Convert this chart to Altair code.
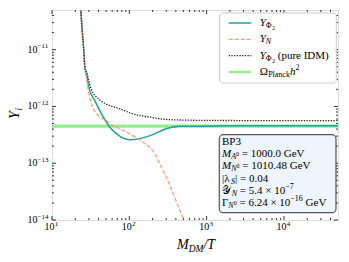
import altair as alt
import pandas as pd

# ---------------- data ----------------
teal_x = [22.9, 23.6, 24.8, 25.8, 26.6, 28.0, 29.9, 35.8, 43.6, 55.7, 68.0, 101, 136, 200, 299, 444, 803, 2000, 10000, 50000]
teal_y = [8.9e-11, 4.8e-11, 1.88e-11, 9.6e-12, 4.9e-12, 3.8e-12, 2.18e-12, 1.27e-12, 7.45e-13, 4.34e-13, 3.32e-13,
          2.6e-13, 2.71e-13, 3.19e-13, 4.06e-13, 4.46e-13, 4.5e-13, 4.55e-13, 4.55e-13, 4.55e-13]

orange_x = [22.9, 23.6, 24.8, 25.8, 26.6, 27.3, 29.0, 31.5, 37.6, 41.5, 50.6, 55.7, 75, 110, 148, 182, 212, 246, 314, 383, 467, 505, 562]
orange_y = [8.9e-11, 4.8e-11, 1.88e-11, 9.6e-12, 4.9e-12, 3.8e-12, 2.18e-12, 1.27e-12, 7.45e-13, 6.5e-13, 5.67e-13,
            4.97e-13, 4.06e-13, 3.1e-13, 2.37e-13, 1.93e-13, 1.5e-13, 9.9e-14, 5.04e-14, 2.57e-14, 1.31e-14, 1.03e-14, 6.2e-15]

black_x = [22.9, 23.6, 24.8, 25.8, 26.6, 28.4, 31.5, 41.5, 55.7, 75, 110, 182, 299, 803, 3000, 50000]
black_y = [8.9e-11, 4.8e-11, 1.88e-11, 9.6e-12, 4.9e-12, 3.8e-12, 2.18e-12, 1.3e-12, 1.04e-12, 9.1e-13, 7.45e-13,
           6.5e-13, 5.9e-13, 5.7e-13, 5.65e-13, 5.65e-13]

planck_x = [10, 50000]
planck_y = [4.5e-13, 4.5e-13]

x_major = [10, 100, 1000, 10000]
x_exp = ["1", "2", "3", "4"]
y_major = [1e-14, 1e-13, 1e-12, 1e-11]
y_exp = ["−14", "−13", "−12", "−11"]
x_minor = [2e1, 3e1, 4e1, 5e1, 6e1, 7e1, 8e1, 9e1, 2e2, 3e2, 4e2, 5e2, 6e2, 7e2, 8e2, 9e2,
           2e3, 3e3, 4e3, 5e3, 6e3, 7e3, 8e3, 9e3, 2e4, 3e4, 4e4]
y_minor = [2e-14, 3e-14, 4e-14, 5e-14, 6e-14, 7e-14, 8e-14, 9e-14, 2e-13, 3e-13, 4e-13, 5e-13, 6e-13, 7e-13,
           8e-13, 9e-13, 2e-12, 3e-12, 4e-12, 5e-12, 6e-12, 7e-12, 8e-12, 9e-12, 2e-11, 3e-11, 4e-11]

# ---------------- style ----------------
FONT = "Liberation Serif"
W, H = 286, 210
TEAL, ORANGE, GREEN = "#1fa39b", "#ff9c74", "#90ee90"

xs = alt.Scale(type="log", domain=[10, 5e4], nice=False)
ys = alt.Scale(type="log", domain=[1e-14, 5e-11], nice=False)

ONE = alt.Data(values=[{"k": 0}])

ROMAN = {' ': 250, '(': 333, ')': 333, '.': 250, '=': 564, '×': 564, '−': 564, '|': 200, 'G': 722, 'e': 444,
         'V': 722, 'B': 667, 'P': 556, 'I': 333, 'D': 722, 'M': 889, 'p': 500, 'u': 500, 'r': 333, 'l': 278,
         'a': 444, 'n': 500, 'c': 444, 'k': 500, 'h': 500, 'Γ': 578, 'λ': 620, 'Ω': 768, 'Φ': 800, '𝒴': 880}
ITALIC = {'Y': 556, 'M': 833, 'N': 667, 'A': 611, 'S': 500, 'h': 500, 'T': 556, 'D': 722, 'i': 278, '/': 278}


def width(s, size, italic):
    tbl = ITALIC if italic else ROMAN
    return sum(tbl.get(c, ROMAN.get(c, 500)) for c in s) * size / 1000.0


def txt(s, x, y, size=11, italic=False, align="left", angle=0):
    return alt.Chart(ONE).mark_text(
        text=s, font=FONT, fontSize=size, fontStyle="italic" if italic else "normal",
        align=align, baseline="middle", angle=angle, color="black"
    ).encode(x=alt.value(x), y=alt.value(y))


def rich(segs, x, y):
    """Draw a run of text pieces side by side; leading blanks become an x offset (SVG drops them)."""
    out, cx = [], x
    for s, size, it, dy in segs:
        core = s.lstrip(" ")
        cx += width(" " * (len(s) - len(core)), size, False)
        out.append(txt(core, cx, y + dy, size, it))
        cx += width(core, size, it)
    return out


def curve(xv, yv, color, sw, dash=None):
    df = pd.DataFrame({"x": xv, "y": yv})
    kw = dict(clip=True, interpolate="monotone", color=color, strokeWidth=sw)
    if dash:
        kw["strokeDash"] = dash
    return alt.Chart(df).mark_line(**kw).encode(
        x=alt.X("x:Q", scale=xs, axis=None), y=alt.Y("y:Q", scale=ys, axis=None))


def ticks(vals, axis, side, length):
    df = pd.DataFrame({"v": vals})
    m = alt.Chart(df).mark_rule(color="black", strokeWidth=0.8)
    if axis == "x":
        y0 = H if side == "bottom" else 0
        y1 = H - length if side == "bottom" else length
        return m.encode(x=alt.X("v:Q", scale=xs, axis=None), y=alt.value(y0), y2=alt.value(y1))
    x0 = 0 if side == "left" else W
    x1 = length if side == "left" else W - length
    return m.encode(y=alt.Y("v:Q", scale=ys, axis=None), x=alt.value(x0), x2=alt.value(x1))


layers = [
    curve(planck_x, planck_y, GREEN, 3.2),
    curve(teal_x, teal_y, TEAL, 1.5),
    curve(orange_x, orange_y, ORANGE, 1.3, dash=[4, 2]),
    curve(black_x, black_y, "#222222", 1.3, dash=[1.3, 1.4]),
]
for side in ("bottom", "top"):
    layers += [ticks(x_major, "x", side, 4), ticks(x_minor, "x", side, 2)]
for side in ("left", "right"):
    layers += [ticks(y_major, "y", side, 4), ticks(y_minor, "y", side, 2)]

# ---------------- tick labels (10 with superscript exponent) ----------------
xl = pd.DataFrame({"v": x_major, "e": x_exp})
layers.append(alt.Chart(xl).mark_text(font=FONT, fontSize=10, align="center", baseline="middle", dx=-2.5,
                                      color="black").encode(
    x=alt.X("v:Q", scale=xs, axis=None), y=alt.value(H + 7), text=alt.value("10")))
layers.append(alt.Chart(xl).mark_text(font=FONT, fontSize=7, align="left", baseline="middle", dx=2.8,
                                      color="black").encode(
    x=alt.X("v:Q", scale=xs, axis=None), y=alt.value(H + 3.5), text="e:N"))
yl = pd.DataFrame({"v": y_major, "e": y_exp})
layers.append(alt.Chart(yl).mark_text(font=FONT, fontSize=10, align="right", baseline="middle",
                                      color="black").encode(
    y=alt.Y("v:Q", scale=ys, axis=None), x=alt.value(-14.5), text=alt.value("10")))
layers.append(alt.Chart(yl).mark_text(font=FONT, fontSize=7, align="left", baseline="middle", dy=-3.5,
                                      color="black").encode(
    y=alt.Y("v:Q", scale=ys, axis=None), x=alt.value(-14.5), text="e:N"))

# ---------------- legend ----------------
layers.append(alt.Chart(ONE).mark_rect(fill="white", fillOpacity=0.85, stroke="#cccccc", strokeWidth=1,
                                       cornerRadius=3).encode(
    x=alt.value(167.7), x2=alt.value(284.3), y=alt.value(3), y2=alt.value(73)))
leg_rows = [13, 29.3, 45.6, 62]
leg_style = [(TEAL, None, 1.5), (ORANGE, [4, 2], 1.3), ("#222222", [1.3, 1.4], 1.3), (GREEN, None, 2.5)]
for ry, (c, d, sw) in zip(leg_rows, leg_style):
    kw = dict(color=c, strokeWidth=sw)
    if d:
        kw["strokeDash"] = d
    layers.append(alt.Chart(ONE).mark_rule(**kw).encode(
        x=alt.value(176.7), x2=alt.value(199.3), y=alt.value(ry)))
LX = 207.7
layers += rich([("Y", 11, True, 0), ("Φ", 8, False, 3), ("2", 5.5, False, 5)], LX, leg_rows[0])
layers += rich([("Y", 11, True, 0), ("N", 8, True, 3)], LX, leg_rows[1])
layers += rich([("Y", 11, True, 0), ("Φ", 8, False, 3), ("2", 5.5, False, 5), (" (pure IDM)", 11, False, 0)],
               LX, leg_rows[2])
layers += rich([("Ω", 11, False, 0), ("Planck", 8, False, 3), ("h", 11, True, 0), ("2", 8, False, -4)],
               LX, leg_rows[3])

# ---------------- annotation box ----------------
layers.append(alt.Chart(ONE).mark_rect(fill="#eef5fc", stroke="#555555", strokeWidth=1.2,
                                       cornerRadius=4).encode(
    x=alt.value(167.3), x2=alt.value(284), y=alt.value(124.7), y2=alt.value(202.7)))
AX = 170
ann_rows = [132, 144.2, 156.4, 168.6, 180.8, 193]
F, S, SS = 11, 8, 6
ann = [
    [("BP3", F, False, 0)],
    [("M", F, True, 0), ("A", S, True, 3), ("0", SS, False, -0.5), (" = 1000.0 GeV", F, False, 0)],
    [("M", F, True, 0), ("N", S, True, 3), ("0", SS, False, -0.5), (" = 1010.48 GeV", F, False, 0)],
    [("|λ", F, False, 0), ("S", S, True, 3), ("| = 0.04", F, False, 0)],
    [("𝒴", F, False, 0), ("N", S, True, 3), (" = 5.4 × 10", F, False, 0), ("−7", S, False, -4)],
    [("Γ", F, False, 0), ("N", S, True, 3), ("0", SS, False, -0.5), (" = 6.24 × 10", F, False, 0),
     ("−16", S, False, -4), (" GeV", F, False, 0)],
]
for ry, segs in zip(ann_rows, ann):
    layers += rich(segs, AX, ry)

# ---------------- axis titles ----------------
layers += rich([("M", 14, True, 0), ("DM", 9.5, True, 3.5), ("/T", 14, True, 0)], 125, 235)
layers.append(txt("Y", -37, 105, 14, True, align="center", angle=270))
layers.append(txt("i", -33.5, 100.5, 9.5, True, align="left", angle=270))

chart = alt.layer(*layers).properties(
    width=W, height=H,
    autosize=alt.AutoSizeParams(type="none"),
    padding={"left": 44, "top": 2, "right": 3, "bottom": 40},
).configure_view(stroke="black", strokeWidth=1).configure(background="white")

chart.save("out.html", embed_options={"renderer": "svg", "actions": False})
